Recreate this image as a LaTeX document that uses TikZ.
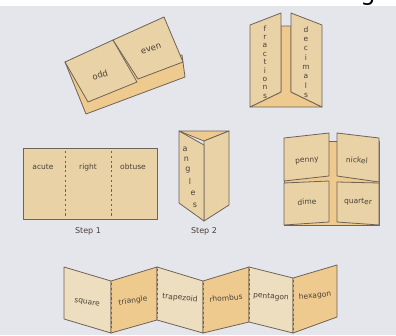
\documentclass[tikz,border=0pt]{standalone}
\usepackage{fontspec}
\setmainfont{DejaVu Sans}
\definecolor{bg}{HTML}{E5E5EC}
\definecolor{edge}{HTML}{6F6357}
\definecolor{card}{HTML}{E8D2A6}
\definecolor{cardlt}{HTML}{EDDEBF}
\definecolor{cardor}{HTML}{EECA8E}
\definecolor{ink}{HTML}{4A4139}
\begin{document}
\begin{tikzpicture}[x=1pt,y=-1pt,line join=round,
  panel/.style={draw=edge,line width=0.8pt,fill=card},
  lbl/.style={text=ink,font=\fontsize{7.5}{8}\selectfont,inner sep=0pt},
  big/.style={text=ink,font=\fontsize{8.5}{9}\selectfont,inner sep=0pt},
  vlbl/.style={text=ink,align=center,inner sep=0pt},
  fold/.style={draw=edge,line width=0.7pt,dash pattern=on 2.2pt off 2.6pt}]
\useasboundingbox (0,0) rectangle (396,335);
\fill[bg] (0,0) rectangle (396,335);
\fill[white] (0,0) rectangle (396,6);
\begin{scope}
\clip (0,0) rectangle (396,335);
\node[anchor=center,text=black,inner sep=0pt,font=\fontsize{24}{24}\selectfont] (gcut) at (368,-4) {g};
\end{scope}

% odd / even
\draw[panel,fill=cardor] (65,62) -- (86,114) -- (185,77) -- (182,55) -- cycle;
\draw[panel] (65,62) -- (113,40) -- (137,82) -- (88,102) -- cycle;
\draw[panel] (113,40) -- (164,17) -- (183,62) -- (138,79) -- cycle;
\node[big,rotate=18] (odd) at (100,75) {odd};
\node[big,rotate=18] (even) at (151,49) {even};

% fractions / decimals
\draw[panel,fill=cardor] (250,107) -- (281,92) -- (281,26) -- (291,26) -- (291,92) -- (322,107) -- cycle;
\draw[panel] (250,25) -- (281,13) -- (281,92) -- (250,107) -- cycle;
\draw[panel] (291,13) -- (322,25) -- (322,107) -- (291,92) -- cycle;
\node[vlbl,font=\fontsize{7.5}{8.4}\selectfont] (fractions) at (265,62) {f\\r\\a\\c\\t\\i\\o\\n\\s};
\node[vlbl,font=\fontsize{7.5}{9.3}\selectfont] (decimals) at (306,62) {d\\e\\c\\i\\m\\a\\l\\s};

% Step 1
\draw[panel] (23,148) rectangle (157,219);
\draw[fold] (65,151) -- (65,217);
\draw[fold] (111,151) -- (111,217);
\node[lbl] (acute) at (43,167) {acute};
\node[lbl] (right) at (88,167) {right};
\node[lbl] (obtuse) at (133,167) {obtuse};
\node[lbl,font=\fontsize{8}{9}\selectfont] (step1) at (88,231) {Step 1};

% Step 2
\draw[panel,fill=cardor] (179,131) -- (229,131) -- (204,141) -- cycle;
\draw[panel] (204,141) -- (229,131) -- (229,205) -- (204,221) -- cycle;
\draw[panel] (179,131) -- (204,145) -- (204,221) -- (179,203) -- cycle;
\node[lbl,font=\fontsize{8}{9}\selectfont] (la) at (185,149) {a};
\node[lbl,font=\fontsize{8}{9}\selectfont] (ln) at (186.5,159) {n};
\node[lbl,font=\fontsize{8}{9}\selectfont] (lg) at (188,170) {g};
\node[lbl,font=\fontsize{8}{9}\selectfont] (ll) at (190,181) {l};
\node[lbl,font=\fontsize{8}{9}\selectfont] (le) at (193,193) {e};
\node[lbl,font=\fontsize{8}{9}\selectfont] (ls) at (195,205) {s};
\node[lbl,font=\fontsize{8}{9}\selectfont] (step2) at (204,231) {Step 2};

% coins
\draw[panel,fill=cardor] (284,141) rectangle (379,225);
\draw[panel] (284,138) -- (329,133) -- (329,176) -- (284,181) -- cycle;
\draw[panel] (337,133) -- (379,138) -- (379,182) -- (337,176) -- cycle;
\draw[panel] (284,183) -- (329,181) -- (329,222) -- (284,225) -- cycle;
\draw[panel] (337,182) -- (379,183) -- (379,225) -- (337,222) -- cycle;
\node[lbl,rotate=4] (penny) at (307,161) {penny};
\node[lbl,rotate=-4] (nickel) at (357,160) {nickel};
\node[lbl,rotate=2] (dime) at (307,202) {dime};
\node[lbl,rotate=-2] (quarter) at (358,202) {quarter};

% accordion
\draw[panel,fill=cardlt] (64,267) -- (111,281) -- (111,333) -- (64,319) -- cycle;
\draw[panel,fill=cardor] (111,281) -- (157,267) -- (157,320) -- (111,333) -- cycle;
\draw[panel,fill=cardlt] (157,267) -- (203,281) -- (203,333) -- (157,320) -- cycle;
\draw[panel,fill=cardor] (203,281) -- (249,267) -- (249,322) -- (203,333) -- cycle;
\draw[panel,fill=cardlt] (249,267) -- (293,278) -- (293,333) -- (249,322) -- cycle;
\draw[panel,fill=cardor] (293,278) -- (337,265) -- (337,317) -- (293,333) -- cycle;
\foreach \fx/\ta/\tb in {111/283/331, 157/269/318, 203/283/331, 249/269/320, 293/280/331}
  \draw[fold] (\fx,\ta) -- (\fx,\tb);
\node[lbl,rotate=-9] (square) at (87,303) {square};
\node[lbl,rotate=8] (triangle) at (133,301) {triangle};
\node[lbl,rotate=-5] (trapezoid) at (180,298) {trapezoid};
\node[lbl,rotate=5] (rhombus) at (226,298) {rhombus};
\node[lbl,rotate=-4] (pentagon) at (271,297) {pentagon};
\node[lbl,rotate=6] (hexagon) at (315,296) {hexagon};
\end{tikzpicture}
\end{document}
